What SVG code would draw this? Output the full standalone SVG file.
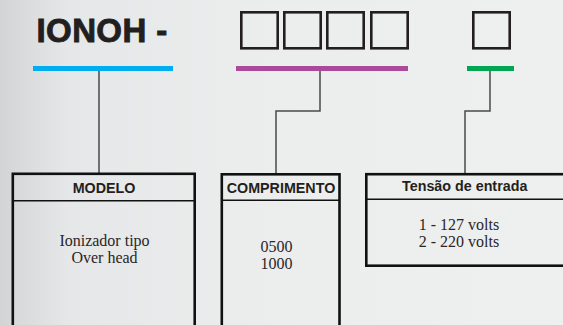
<svg xmlns="http://www.w3.org/2000/svg" width="563" height="325" viewBox="0 0 563 325">
<defs>
<linearGradient id="bg" x1="0" y1="0" x2="1" y2="0">
<stop offset="0" stop-color="#d3d4d6"/>
<stop offset="0.12" stop-color="#e6e7e8"/>
<stop offset="0.5" stop-color="#eceded"/>
<stop offset="1" stop-color="#eeefef"/>
</linearGradient>
</defs>
<style>
.box{fill:none;stroke:#111;stroke-width:2.6}
.div{fill:none;stroke:#111;stroke-width:1.4}
.sq{fill:none;stroke:#231f20;stroke-width:2.6}
.con{fill:none;stroke:#4a4a4a;stroke-width:1.5}
.hd{font-family:"Liberation Sans",Arial,sans-serif;font-weight:bold;font-size:14.3px;fill:#231f20;text-anchor:middle}
.bd{font-family:"Liberation Serif","Times New Roman",serif;font-size:16px;fill:#2a2627;text-anchor:middle}
</style>
<rect x="0" y="0" width="563" height="325" fill="url(#bg)"/>
<g id="title">
<text x="36.5" y="42" font-family="Liberation Sans, Arial, sans-serif" font-weight="bold" font-size="33" letter-spacing="0.4" fill="#231f20" stroke="#231f20" stroke-width="0.9">IONOH -</text>
</g>
<g id="code-boxes">
<rect class="sq" x="241.3" y="12.3" width="36.4" height="36"/>
<rect class="sq" x="284.3" y="12.3" width="36.4" height="36"/>
<rect class="sq" x="327.3" y="12.3" width="36.4" height="36"/>
<rect class="sq" x="371.3" y="12.3" width="36.4" height="36"/>
<rect class="sq" x="473.3" y="12.3" width="36.4" height="36"/>
</g>
<g id="bars">
<rect x="33" y="66" width="140" height="5" fill="#00aeef"/>
<rect x="236" y="66" width="172" height="5" fill="#ab4a9a"/>
<rect x="467" y="66" width="47" height="5" fill="#00a651"/>
</g>
<g id="connectors">
<polyline class="con" points="99,71 99,173"/>
<polyline class="con" points="320,71 320,111 276,111 276,173"/>
<polyline class="con" points="490,71 490,111 465,111 465,173"/>
</g>
<g id="modelo">
<rect class="box" x="12.8" y="173.8" width="181.9" height="170"/>
<line class="div" x1="12.8" y1="200.7" x2="194.7" y2="200.7"/>
<text class="hd" x="104" y="192.7">MODELO</text>
<text class="bd" x="104.5" y="245.5">Ionizador tipo</text>
<text class="bd" x="104.5" y="262.5">Over head</text>
</g>
<g id="comprimento">
<rect class="box" x="221.8" y="174.3" width="117.7" height="170"/>
<line class="div" x1="221.8" y1="200.3" x2="339.5" y2="200.3"/>
<text class="hd" x="281" y="192.7">COMPRIMENTO</text>
<text class="bd" x="276.5" y="251.7">0500</text>
<text class="bd" x="276.5" y="269.3">1000</text>
</g>
<g id="tensao">
<rect class="box" x="366.3" y="174.2" width="210" height="91.5"/>
<line class="div" x1="366.3" y1="199.3" x2="576" y2="199.3"/>
<text class="hd" x="464.7" y="191">Tensão de entrada</text>
<text class="bd" x="459" y="230">1 - 127 volts</text>
<text class="bd" x="459" y="247.3">2 - 220 volts</text>
</g>
</svg>
